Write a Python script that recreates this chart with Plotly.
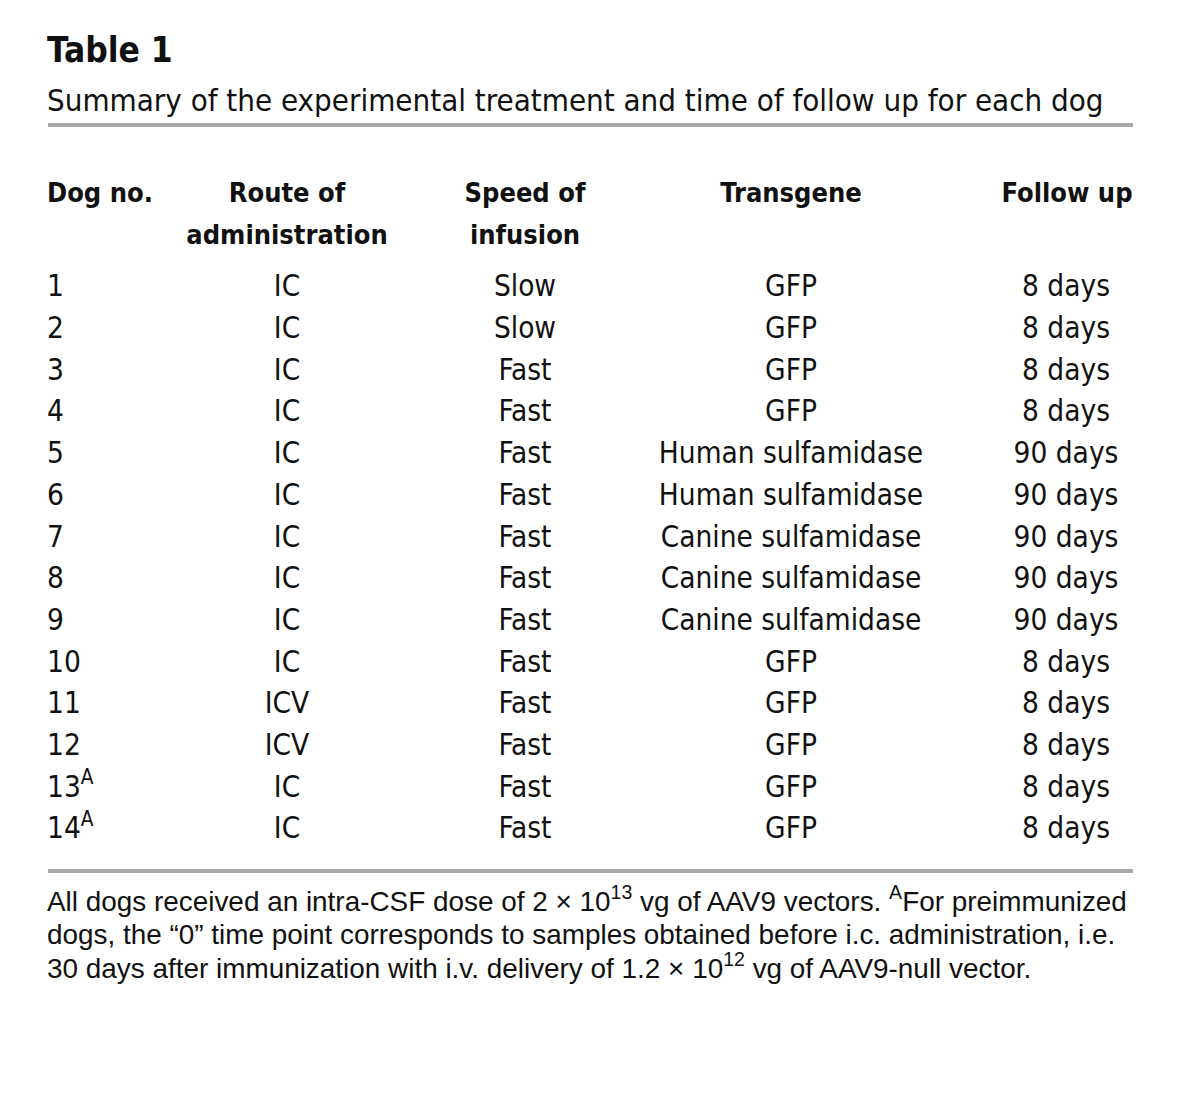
import plotly.graph_objects as go

title = "Table 1"
subtitle = "Summary of the experimental treatment and time of follow up for each dog"
header_line1 = ["Dog no.", "Route of", "Speed of", "Transgene", "Follow up"]
header_line2 = ["", "administration", "infusion", "", ""]
dog_no = ["1", "2", "3", "4", "5", "6", "7", "8", "9", "10", "11", "12",
          "13<sup>A</sup>", "14<sup>A</sup>"]
route = ["IC"] * 10 + ["ICV", "ICV", "IC", "IC"]
speed = ["Slow", "Slow"] + ["Fast"] * 12
transgene = ["GFP", "GFP", "GFP", "GFP", "Human sulfamidase", "Human sulfamidase",
             "Canine sulfamidase", "Canine sulfamidase", "Canine sulfamidase",
             "GFP", "GFP", "GFP", "GFP", "GFP"]
follow_up = ["8 days"] * 4 + ["90 days"] * 5 + ["8 days"] * 5
footnote = [
    "All dogs received an intra-CSF dose of 2 × 10<sup>13</sup> vg of AAV9 vectors. <sup>A</sup>For preimmunized",
    "dogs, the “0” time point corresponds to samples obtained before i.c. administration, i.e.",
    "30 days after immunization with i.v. delivery of 1.2 × 10<sup>12</sup> vg of AAV9-null vector.",
]

# page is offset by the 8px body margin; axes map values to page pixels
OFF = 8
W, H = 1181 - 2 * OFF, 1097 - 2 * OFF
COND = "Liberation Sans Narrow, DejaVu Sans Condensed, Arial Narrow, sans-serif"
REG = "Liberation Sans, Arial, Helvetica, sans-serif"
INK = "#111111"

columns = [dog_no, route, speed, transgene, follow_up]
col_x = [47, 287, 525, 791, 1066]
hdr_x = [47, 287, 525, 791, 1067]
col_pos = ["middle right", "middle center", "middle center", "middle center", "middle center"]
row_y0, row_step = 289, 41.7
hdr_y = [195, 237]

fig = go.Figure()
n = len(dog_no)
for ci, col in enumerate(columns):
    fig.add_trace(go.Scatter(
        x=[col_x[ci]] * n, y=[row_y0 + i * row_step for i in range(n)],
        mode="text", text=col, textposition=col_pos[ci],
        textfont=dict(family=COND, size=29.5, color=INK),
        hoverinfo="skip", showlegend=False, cliponaxis=False))
    for li, hl in enumerate([header_line1, header_line2]):
        if hl[ci]:
            fig.add_trace(go.Scatter(
                x=[hdr_x[ci]], y=[hdr_y[li]],
                mode="text", text=[f"<b>{hl[ci]}</b>"], textposition=col_pos[ci],
                textfont=dict(family=COND, size=27, color=INK),
                hoverinfo="skip", showlegend=False, cliponaxis=False))

fig.add_trace(go.Scatter(x=[47], y=[53], mode="text", text=[f"<b>{title}</b>"],
                         textposition="middle right",
                         textfont=dict(family=COND, size=35, color=INK),
                         hoverinfo="skip", showlegend=False, cliponaxis=False))
fig.add_trace(go.Scatter(x=[47], y=[103], mode="text", text=[subtitle],
                         textposition="middle right",
                         textfont=dict(family=COND, size=31, color=INK),
                         hoverinfo="skip", showlegend=False, cliponaxis=False))
for i, line in enumerate(footnote):
    fig.add_trace(go.Scatter(x=[47], y=[904 + i * 33.5], mode="text", text=[line],
                             textposition="middle right",
                             textfont=dict(family=REG, size=27.9, color=INK),
                             hoverinfo="skip", showlegend=False, cliponaxis=False))

for yy in [125, 871]:
    fig.add_shape(type="line", x0=48, x1=1133, y0=yy, y1=yy, xref="x", yref="y",
                  line=dict(color="#a7a9ac", width=4))

fig.update_xaxes(range=[OFF, OFF + W], visible=False, fixedrange=True)
fig.update_yaxes(range=[OFF + H, OFF], visible=False, fixedrange=True)
fig.update_layout(width=W, height=H, margin=dict(l=0, r=0, t=0, b=0),
                  paper_bgcolor="white", plot_bgcolor="white")
fig.write_html("out.html")
